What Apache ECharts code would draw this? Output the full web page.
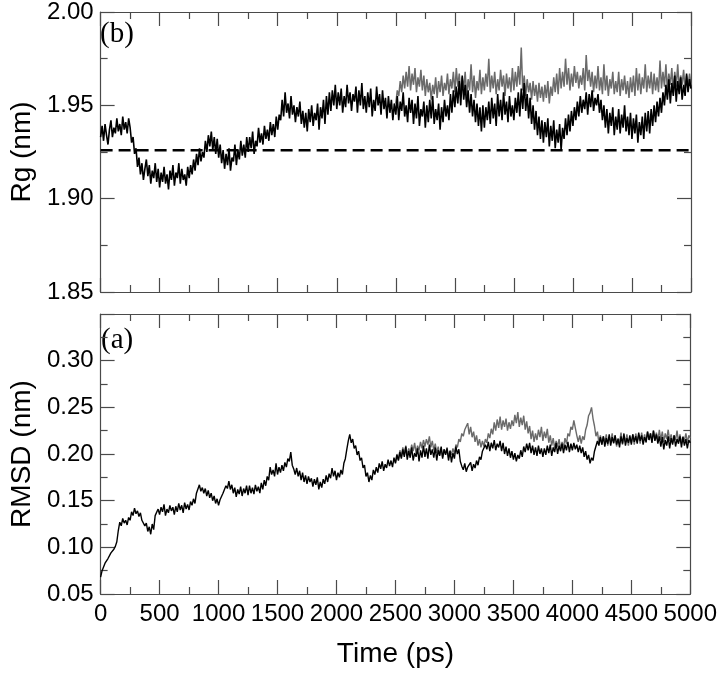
<!DOCTYPE html>
<html>
<head>
<meta charset="utf-8">
<title>Rg / RMSD</title>
<script src="https://cdn.jsdelivr.net/npm/echarts@6/dist/echarts.min.js"></script>
<style>
  html, body { margin: 0; padding: 0; background: #fff; }
  #chart { width: 720px; height: 674px; }
</style>
</head>
<body>
<div id="chart"></div>
<script>
// sampling of the traces (ps)
var dt = 12.5;
var grayStart = 2500;
var rgRef = 1.926;

// (b) radius of gyration, black trace, 0..5000 ps
var rgBlack = [
  1.933, 1.939, 1.931, 1.940, 1.934, 1.929, 1.937, 1.942, 1.933, 1.938, 1.935, 1.943, 1.936, 1.940, 1.934, 1.944, 1.937, 1.941, 1.935, 1.943,
  1.938, 1.930, 1.933, 1.924, 1.927, 1.917, 1.922, 1.913, 1.919, 1.910, 1.916, 1.921, 1.912, 1.918, 1.908, 1.915, 1.911, 1.919, 1.909, 1.916,
  1.906, 1.914, 1.909, 1.917, 1.908, 1.913, 1.905, 1.915, 1.910, 1.918, 1.907, 1.914, 1.911, 1.919, 1.908, 1.916, 1.910, 1.913, 1.907, 1.917,
  1.911, 1.918, 1.913, 1.921, 1.915, 1.924, 1.918, 1.927, 1.920, 1.925, 1.922, 1.931, 1.925, 1.934, 1.928, 1.936, 1.926, 1.933, 1.924, 1.932,
  1.922, 1.929, 1.919, 1.926, 1.916, 1.924, 1.918, 1.927, 1.915, 1.922, 1.920, 1.929, 1.918, 1.926, 1.921, 1.931, 1.923, 1.929, 1.922, 1.933,
  1.925, 1.933, 1.927, 1.936, 1.924, 1.931, 1.928, 1.938, 1.930, 1.935, 1.929, 1.939, 1.932, 1.937, 1.931, 1.941, 1.934, 1.940, 1.933, 1.944,
  1.937, 1.945, 1.942, 1.953, 1.944, 1.957, 1.946, 1.951, 1.943, 1.955, 1.945, 1.950, 1.941, 1.949, 1.944, 1.952, 1.940, 1.947, 1.938, 1.946,
  1.936, 1.948, 1.941, 1.950, 1.939, 1.946, 1.942, 1.951, 1.937, 1.949, 1.943, 1.953, 1.940, 1.955, 1.945, 1.957, 1.947, 1.958, 1.950, 1.961,
  1.948, 1.957, 1.950, 1.959, 1.946, 1.955, 1.949, 1.961, 1.951, 1.957, 1.947, 1.956, 1.952, 1.960, 1.946, 1.958, 1.950, 1.962, 1.948, 1.955,
  1.946, 1.957, 1.949, 1.959, 1.944, 1.953, 1.947, 1.960, 1.950, 1.956, 1.945, 1.958, 1.948, 1.954, 1.943, 1.955, 1.946, 1.953, 1.942, 1.951,
  1.945, 1.955, 1.942, 1.952, 1.947, 1.957, 1.944, 1.950, 1.941, 1.954, 1.946, 1.953, 1.940, 1.951, 1.943, 1.955, 1.939, 1.948, 1.944, 1.952,
  1.938, 1.950, 1.941, 1.953, 1.943, 1.955, 1.940, 1.948, 1.942, 1.951, 1.937, 1.949, 1.941, 1.953, 1.944, 1.950, 1.942, 1.956, 1.946, 1.958,
  1.949, 1.960, 1.951, 1.963, 1.950, 1.966, 1.953, 1.961, 1.949, 1.958, 1.946, 1.956, 1.944, 1.953, 1.941, 1.951, 1.939, 1.949, 1.936, 1.950,
  1.938, 1.949, 1.942, 1.952, 1.940, 1.954, 1.943, 1.951, 1.939, 1.956, 1.944, 1.953, 1.942, 1.957, 1.945, 1.952, 1.941, 1.955, 1.944, 1.950,
  1.942, 1.954, 1.946, 1.957, 1.944, 1.959, 1.948, 1.962, 1.947, 1.956, 1.943, 1.954, 1.940, 1.950, 1.937, 1.947, 1.934, 1.944, 1.932, 1.942,
  1.930, 1.941, 1.933, 1.943, 1.928, 1.939, 1.931, 1.942, 1.927, 1.937, 1.930, 1.940, 1.926, 1.938, 1.932, 1.943, 1.934, 1.945, 1.936, 1.947,
  1.939, 1.949, 1.942, 1.952, 1.944, 1.955, 1.946, 1.953, 1.948, 1.957, 1.945, 1.956, 1.949, 1.958, 1.947, 1.954, 1.950, 1.956, 1.946, 1.953,
  1.942, 1.950, 1.938, 1.948, 1.935, 1.946, 1.939, 1.949, 1.934, 1.944, 1.937, 1.948, 1.935, 1.945, 1.938, 1.950, 1.936, 1.944, 1.934, 1.946,
  1.932, 1.943, 1.935, 1.945, 1.930, 1.941, 1.934, 1.944, 1.932, 1.946, 1.936, 1.947, 1.935, 1.948, 1.939, 1.950, 1.941, 1.952, 1.944, 1.954,
  1.946, 1.957, 1.950, 1.961, 1.953, 1.964, 1.951, 1.962, 1.955, 1.966, 1.952, 1.963, 1.956, 1.965, 1.953, 1.961, 1.955, 1.967, 1.957, 1.964,
  1.959
];

// (b) gray trace, 2500..5000 ps
var rgGray = [
  1.951, 1.958, 1.955, 1.963, 1.957, 1.966, 1.959, 1.968, 1.960, 1.971, 1.958, 1.967, 1.961, 1.970, 1.957, 1.965, 1.960, 1.969, 1.958, 1.966,
  1.955, 1.964, 1.957, 1.962, 1.953, 1.961, 1.956, 1.965, 1.954, 1.963, 1.957, 1.966, 1.955, 1.962, 1.958, 1.967, 1.956, 1.964, 1.959, 1.968,
  1.957, 1.970, 1.960, 1.967, 1.956, 1.965, 1.959, 1.968, 1.955, 1.964, 1.958, 1.972, 1.957, 1.966, 1.954, 1.963, 1.958, 1.969, 1.956, 1.965,
  1.958, 1.967, 1.960, 1.975, 1.957, 1.966, 1.959, 1.968, 1.956, 1.964, 1.958, 1.969, 1.960, 1.966, 1.955, 1.967, 1.959, 1.965, 1.957, 1.970,
  1.958, 1.968, 1.960, 1.971, 1.961, 1.981, 1.958, 1.966, 1.955, 1.964, 1.957, 1.962, 1.953, 1.963, 1.955, 1.961, 1.952, 1.962, 1.954, 1.960,
  1.952, 1.961, 1.954, 1.963, 1.951, 1.960, 1.955, 1.965, 1.957, 1.967, 1.956, 1.970, 1.959, 1.968, 1.960, 1.975, 1.961, 1.970, 1.958, 1.967,
  1.960, 1.971, 1.962, 1.968, 1.959, 1.966, 1.961, 1.970, 1.958, 1.977, 1.963, 1.969, 1.960, 1.968, 1.957, 1.966, 1.959, 1.971, 1.958, 1.965,
  1.956, 1.972, 1.958, 1.966, 1.955, 1.964, 1.959, 1.968, 1.956, 1.963, 1.957, 1.968, 1.955, 1.964, 1.958, 1.966, 1.956, 1.963, 1.954, 1.965,
  1.957, 1.966, 1.955, 1.970, 1.958, 1.967, 1.956, 1.965, 1.959, 1.972, 1.957, 1.966, 1.959, 1.968, 1.956, 1.967, 1.958, 1.965, 1.957, 1.974,
  1.959, 1.968, 1.960, 1.972, 1.958, 1.967, 1.961, 1.970, 1.957, 1.968, 1.960, 1.972, 1.959, 1.966, 1.961, 1.969, 1.958, 1.966, 1.960, 1.967,
  1.961
];

// (a) RMSD, black trace, 0..5000 ps
var rmsdBlack = [
  0.068, 0.075, 0.079, 0.083, 0.081, 0.088, 0.090, 0.094, 0.092, 0.098, 0.101, 0.106, 0.118, 0.127, 0.123, 0.131, 0.126, 0.129, 0.124, 0.132,
  0.129, 0.138, 0.134, 0.142, 0.136, 0.139, 0.133, 0.137, 0.129, 0.131, 0.123, 0.126, 0.117, 0.122, 0.114, 0.125, 0.119, 0.134, 0.132, 0.141,
  0.135, 0.143, 0.138, 0.146, 0.134, 0.141, 0.137, 0.145, 0.139, 0.143, 0.135, 0.144, 0.138, 0.147, 0.140, 0.145, 0.137, 0.148, 0.141, 0.146,
  0.140, 0.149, 0.145, 0.152, 0.147, 0.158, 0.156, 0.167, 0.160, 0.164, 0.158, 0.163, 0.155, 0.161, 0.153, 0.158, 0.150, 0.155, 0.147, 0.152,
  0.145, 0.151, 0.152, 0.158, 0.160, 0.166, 0.163, 0.171, 0.162, 0.167, 0.158, 0.164, 0.154, 0.162, 0.157, 0.165, 0.155, 0.163, 0.158, 0.166,
  0.156, 0.166, 0.158, 0.164, 0.157, 0.167, 0.160, 0.165, 0.158, 0.169, 0.162, 0.172, 0.166, 0.176, 0.172, 0.186, 0.178, 0.183, 0.176, 0.190,
  0.178, 0.186, 0.180, 0.188, 0.182, 0.191, 0.186, 0.195, 0.192, 0.202, 0.188, 0.184, 0.178, 0.185, 0.176, 0.182, 0.172, 0.180, 0.170, 0.177,
  0.168, 0.176, 0.170, 0.174, 0.165, 0.173, 0.167, 0.175, 0.162, 0.170, 0.164, 0.173, 0.168, 0.177, 0.170, 0.179, 0.174, 0.185, 0.176, 0.182,
  0.172, 0.180, 0.175, 0.183, 0.178, 0.190, 0.195, 0.205, 0.214, 0.221, 0.212, 0.216, 0.206, 0.209, 0.199, 0.203, 0.193, 0.196, 0.185, 0.188,
  0.176, 0.180, 0.170, 0.177, 0.172, 0.183, 0.178, 0.186, 0.180, 0.190, 0.184, 0.192, 0.182, 0.189, 0.185, 0.194, 0.187, 0.193, 0.186, 0.196,
  0.190, 0.199, 0.193, 0.202, 0.195, 0.205, 0.197, 0.208, 0.194, 0.203, 0.196, 0.207, 0.193, 0.201, 0.197, 0.206, 0.192, 0.204, 0.196, 0.209,
  0.197, 0.206, 0.195, 0.210, 0.199, 0.205, 0.196, 0.207, 0.193, 0.204, 0.198, 0.208, 0.195, 0.205, 0.199, 0.206, 0.193, 0.203, 0.191, 0.201,
  0.195, 0.208, 0.200, 0.205, 0.192, 0.187, 0.183, 0.190, 0.181, 0.186, 0.184, 0.191, 0.182, 0.189, 0.185, 0.193, 0.188, 0.197, 0.194, 0.203,
  0.201, 0.210, 0.205, 0.213, 0.203, 0.212, 0.206, 0.215, 0.204, 0.211, 0.207, 0.214, 0.203, 0.212, 0.200, 0.208, 0.198, 0.206, 0.196, 0.203,
  0.194, 0.201, 0.192, 0.199, 0.195, 0.204, 0.197, 0.208, 0.202, 0.211, 0.204, 0.212, 0.201, 0.209, 0.199, 0.207, 0.198, 0.209, 0.200, 0.206,
  0.197, 0.206, 0.199, 0.209, 0.201, 0.210, 0.198, 0.207, 0.202, 0.212, 0.200, 0.209, 0.203, 0.211, 0.201, 0.210, 0.204, 0.213, 0.202, 0.211,
  0.204, 0.212, 0.205, 0.210, 0.202, 0.209, 0.201, 0.207, 0.197, 0.203, 0.194, 0.199, 0.190, 0.196, 0.193, 0.203, 0.205, 0.214, 0.209, 0.218,
  0.210, 0.219, 0.208, 0.217, 0.211, 0.221, 0.209, 0.218, 0.212, 0.220, 0.210, 0.216, 0.207, 0.219, 0.211, 0.222, 0.209, 0.217, 0.212, 0.220,
  0.210, 0.221, 0.213, 0.219, 0.211, 0.223, 0.214, 0.220, 0.210, 0.218, 0.213, 0.224, 0.215, 0.222, 0.212, 0.225, 0.214, 0.221, 0.211, 0.219,
  0.208, 0.218, 0.205, 0.215, 0.209, 0.219, 0.206, 0.217, 0.210, 0.220, 0.208, 0.216, 0.211, 0.219, 0.207, 0.218, 0.209, 0.216, 0.206, 0.215,
  0.212
];

// (a) gray trace, 2500..5000 ps
var rmsdGray = [
  0.191, 0.200, 0.194, 0.204, 0.197, 0.207, 0.199, 0.209, 0.198, 0.206, 0.200, 0.210, 0.203, 0.212, 0.201, 0.209, 0.204, 0.213, 0.206, 0.215,
  0.208, 0.216, 0.210, 0.219, 0.207, 0.214, 0.204, 0.211, 0.201, 0.208, 0.199, 0.206, 0.197, 0.205, 0.200, 0.207, 0.196, 0.204, 0.199, 0.206,
  0.200, 0.210, 0.207, 0.216, 0.213, 0.222, 0.219, 0.226, 0.224, 0.233, 0.221, 0.229, 0.218, 0.224, 0.213, 0.220, 0.209, 0.216, 0.207, 0.214,
  0.208, 0.216, 0.212, 0.222, 0.217, 0.227, 0.221, 0.234, 0.225, 0.237, 0.228, 0.240, 0.226, 0.236, 0.229, 0.238, 0.225, 0.234, 0.227, 0.236,
  0.230, 0.242, 0.233, 0.245, 0.229, 0.239, 0.231, 0.241, 0.226, 0.235, 0.222, 0.230, 0.216, 0.225, 0.213, 0.222, 0.215, 0.226, 0.218, 0.229,
  0.214, 0.224, 0.217, 0.227, 0.212, 0.220, 0.209, 0.217, 0.206, 0.214, 0.208, 0.216, 0.205, 0.213, 0.207, 0.217, 0.211, 0.222, 0.219, 0.229,
  0.226, 0.236, 0.228, 0.220, 0.213, 0.220, 0.211, 0.219, 0.215, 0.226, 0.231, 0.241, 0.244, 0.250, 0.238, 0.230, 0.219, 0.224, 0.212, 0.220,
  0.210, 0.219, 0.212, 0.221, 0.209, 0.218, 0.213, 0.222, 0.211, 0.220, 0.208, 0.217, 0.212, 0.223, 0.210, 0.219, 0.213, 0.221, 0.209, 0.218,
  0.212, 0.221, 0.210, 0.222, 0.214, 0.220, 0.211, 0.223, 0.213, 0.221, 0.212, 0.224, 0.215, 0.222, 0.213, 0.225, 0.216, 0.223, 0.214, 0.226,
  0.215, 0.224, 0.213, 0.222, 0.216, 0.226, 0.214, 0.221, 0.212, 0.220, 0.215, 0.225, 0.213, 0.221, 0.211, 0.219, 0.214, 0.222, 0.212, 0.220,
  0.217
];

var xTicks = { min: 0, max: 5000, interval: 500 };

function pairs(values, start) {
  return values.map(function (v, i) { return [start + i * dt, v]; });
}

var frameColor = '#4a4a4a';
var sans = '"Liberation Sans", Arial, Helvetica, sans-serif';

function xAxis(grid, pos, labels) {
  return {
    type: 'value', gridIndex: grid, position: pos,
    min: xTicks.min, max: xTicks.max, interval: xTicks.interval,
    axisLine: { show: true, onZero: false, lineStyle: { color: frameColor, width: 1.2 } },
    axisTick: { show: true, inside: true, length: 14, lineStyle: { color: frameColor, width: 1.2 } },
    minorTick: { show: true, splitNumber: 2, length: 7, lineStyle: { color: frameColor, width: 1.2 } },
    splitLine: { show: false },
    axisLabel: {
      show: labels, color: '#000', fontSize: 24, fontFamily: sans, margin: 8,
      formatter: function (v) { return String(v); }
    },
    name: labels ? 'Time (ps)' : '',
    nameLocation: 'middle', nameGap: 46,
    nameTextStyle: { color: '#000', fontSize: 28, fontFamily: sans }
  };
}

function yAxis(grid, pos, min, max, name, hideMax) {
  var labels = pos === 'left';
  return {
    type: 'value', gridIndex: grid, position: pos,
    min: min, max: max, interval: 0.05,
    axisLine: { show: true, onZero: false, lineStyle: { color: frameColor, width: 1.2 } },
    axisTick: { show: true, inside: true, length: 14, lineStyle: { color: frameColor, width: 1.2 } },
    minorTick: { show: true, splitNumber: 2, length: 7, lineStyle: { color: frameColor, width: 1.2 } },
    splitLine: { show: false },
    axisLabel: {
      show: labels, color: '#000', fontSize: 24, fontFamily: sans, margin: 7,
      showMaxLabel: !hideMax,
      formatter: function (v) { return v.toFixed(2); }
    },
    name: labels ? name : '',
    nameLocation: 'middle', nameGap: 63,
    nameTextStyle: { color: '#000', fontSize: 28, fontFamily: sans }
  };
}

function trace(values, start, color, width, xi, yi) {
  return {
    type: 'line', xAxisIndex: xi, yAxisIndex: yi,
    data: pairs(values, start),
    showSymbol: false, symbol: 'none',
    lineStyle: { color: color, width: width },
    silent: true
  };
}

var chart = echarts.init(document.getElementById('chart'));

var option = {
  animation: false,
  backgroundColor: '#fff',
  grid: [
    { left: 92, top: 11, width: 599, height: 281 },
    { left: 92, top: 314, width: 599, height: 280 }
  ],
  xAxis: [
    xAxis(0, 'bottom', false),
    xAxis(0, 'top', false),
    xAxis(1, 'bottom', true),
    xAxis(1, 'top', false)
  ],
  yAxis: [
    yAxis(0, 'left', 1.85, 2.00, 'Rg (nm)', false),
    yAxis(0, 'right', 1.85, 2.00, '', false),
    yAxis(1, 'left', 0.05, 0.35, 'RMSD (nm)', true),
    yAxis(1, 'right', 0.05, 0.35, '', true)
  ],
  graphic: [
    { type: 'text', left: 100, top: 20, style: { text: '(b)', fontSize: 29, fontFamily: '"Liberation Serif", "Times New Roman", serif', fill: '#000' } },
    { type: 'text', left: 101, top: 326, style: { text: '(a)', fontSize: 29, fontFamily: '"Liberation Serif", "Times New Roman", serif', fill: '#000' } }
  ],
  series: [
    {
      type: 'line', xAxisIndex: 0, yAxisIndex: 0,
      data: [[xTicks.min, rgRef], [xTicks.max, rgRef]],
      showSymbol: false, symbol: 'none', silent: true,
      lineStyle: { color: '#000', width: 2.5, type: [12, 6] }
    },
    trace(rgGray, grayStart, '#6a6a6a', 1.5, 0, 0),
    trace(rgBlack, 0, '#000', 1.6, 0, 0),
    trace(rmsdGray, grayStart, '#6a6a6a', 1.4, 2, 2),
    trace(rmsdBlack, 0, '#000', 1.4, 2, 2)
  ]
};

chart.setOption(option);
</script>
</body>
</html>
